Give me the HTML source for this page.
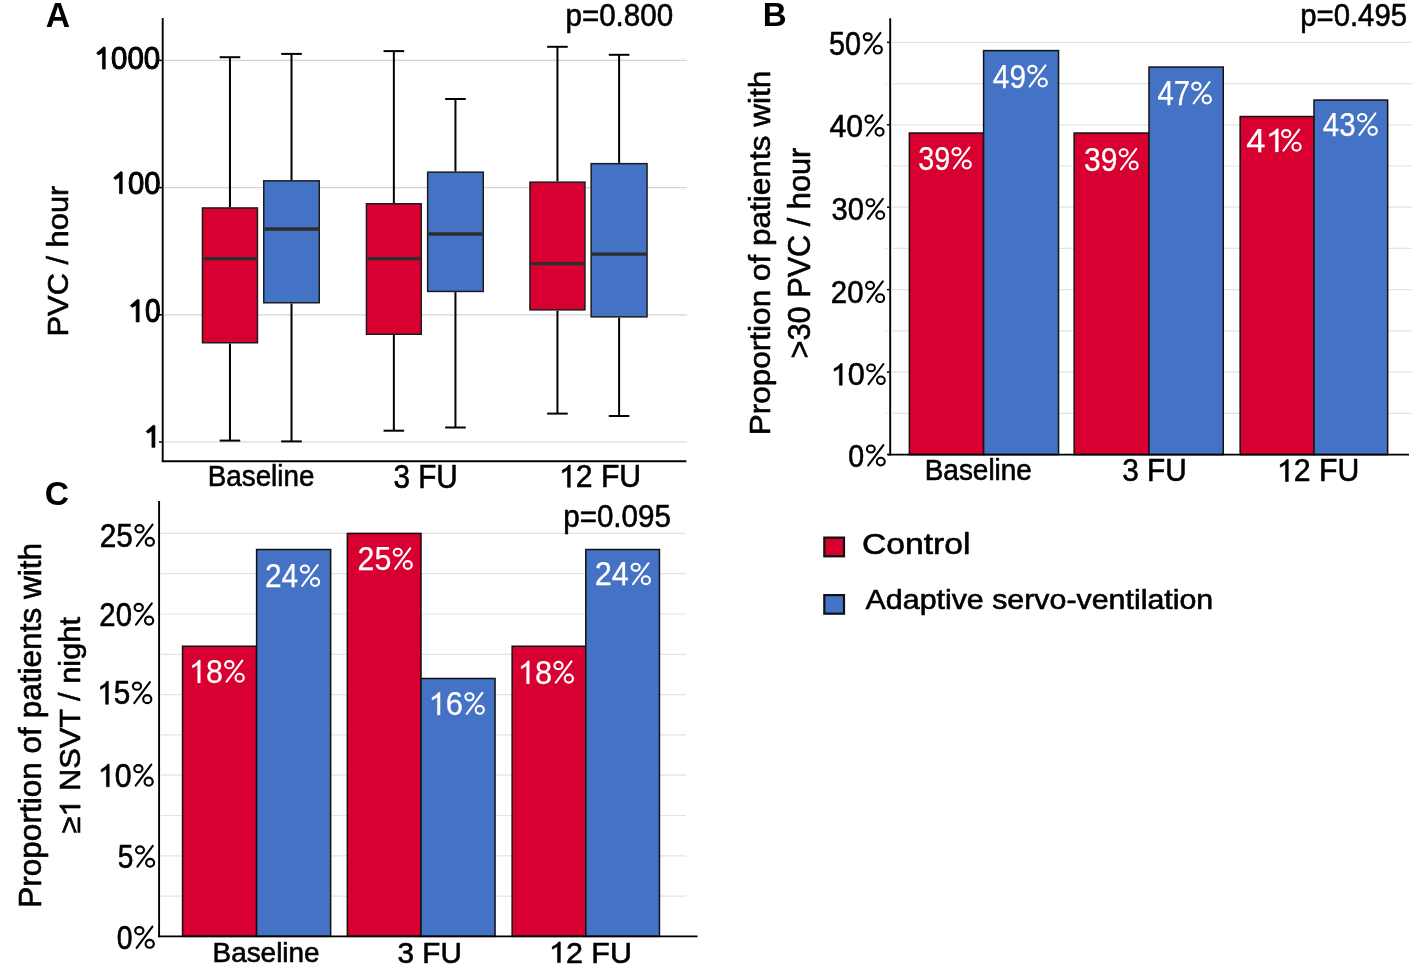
<!DOCTYPE html>
<html><head><meta charset="utf-8"><style>
html,body{margin:0;padding:0;background:#fff;}
svg{display:block;will-change:transform;font-family:"Liberation Sans",sans-serif;}
</style></head><body>
<svg width="1417" height="967" viewBox="0 0 1417 967">
<rect width="1417" height="967" fill="#fff"/>
<line x1="163.4" y1="60.4" x2="686.9" y2="60.4" stroke="#D4D4D4" stroke-width="1.2"/>
<line x1="159" y1="60.4" x2="162" y2="60.4" stroke="#000" stroke-width="1.5"/>
<line x1="163.4" y1="187.6" x2="686.9" y2="187.6" stroke="#D4D4D4" stroke-width="1.2"/>
<line x1="159" y1="187.6" x2="162" y2="187.6" stroke="#000" stroke-width="1.5"/>
<line x1="163.4" y1="314.8" x2="686.9" y2="314.8" stroke="#D4D4D4" stroke-width="1.2"/>
<line x1="159" y1="314.8" x2="162" y2="314.8" stroke="#000" stroke-width="1.5"/>
<line x1="163.4" y1="442.0" x2="686.9" y2="442.0" stroke="#D4D4D4" stroke-width="1.2"/>
<line x1="159" y1="442.0" x2="162" y2="442.0" stroke="#000" stroke-width="1.5"/>
<line x1="229.95" y1="57.2" x2="229.95" y2="207.2" stroke="#000" stroke-width="2"/>
<line x1="229.95" y1="343.5" x2="229.95" y2="440.6" stroke="#000" stroke-width="2"/>
<line x1="219.64999999999998" y1="57.2" x2="240.25" y2="57.2" stroke="#000" stroke-width="2"/>
<line x1="219.64999999999998" y1="440.6" x2="240.25" y2="440.6" stroke="#000" stroke-width="2"/>
<rect x="202.45" y="207.95" width="55.00" height="134.80" fill="#D70030" stroke="#1c1c1c" stroke-width="1.5"/>
<line x1="203.2" y1="258.6" x2="256.7" y2="258.6" stroke="#2e2e2e" stroke-width="3.3"/>
<line x1="291.5" y1="53.9" x2="291.5" y2="180.1" stroke="#000" stroke-width="2"/>
<line x1="291.5" y1="303.5" x2="291.5" y2="441.4" stroke="#000" stroke-width="2"/>
<line x1="281.2" y1="53.9" x2="301.8" y2="53.9" stroke="#000" stroke-width="2"/>
<line x1="281.2" y1="441.4" x2="301.8" y2="441.4" stroke="#000" stroke-width="2"/>
<rect x="263.75" y="180.85" width="55.50" height="121.90" fill="#4472C4" stroke="#1c1c1c" stroke-width="1.5"/>
<line x1="264.5" y1="229.0" x2="318.5" y2="229.0" stroke="#2e2e2e" stroke-width="3.3"/>
<line x1="393.85" y1="51.1" x2="393.85" y2="203.0" stroke="#000" stroke-width="2"/>
<line x1="393.85" y1="335.0" x2="393.85" y2="430.7" stroke="#000" stroke-width="2"/>
<line x1="383.55" y1="51.1" x2="404.15000000000003" y2="51.1" stroke="#000" stroke-width="2"/>
<line x1="383.55" y1="430.7" x2="404.15000000000003" y2="430.7" stroke="#000" stroke-width="2"/>
<rect x="366.45" y="203.75" width="54.80" height="130.50" fill="#D70030" stroke="#1c1c1c" stroke-width="1.5"/>
<line x1="367.2" y1="258.6" x2="420.5" y2="258.6" stroke="#2e2e2e" stroke-width="3.3"/>
<line x1="455.45" y1="99.0" x2="455.45" y2="171.4" stroke="#000" stroke-width="2"/>
<line x1="455.45" y1="292.2" x2="455.45" y2="427.5" stroke="#000" stroke-width="2"/>
<line x1="445.15" y1="99.0" x2="465.75" y2="99.0" stroke="#000" stroke-width="2"/>
<line x1="445.15" y1="427.5" x2="465.75" y2="427.5" stroke="#000" stroke-width="2"/>
<rect x="427.65" y="172.15" width="55.60" height="119.30" fill="#4472C4" stroke="#1c1c1c" stroke-width="1.5"/>
<line x1="428.4" y1="234.0" x2="482.5" y2="234.0" stroke="#2e2e2e" stroke-width="3.3"/>
<line x1="557.45" y1="46.8" x2="557.45" y2="181.4" stroke="#000" stroke-width="2"/>
<line x1="557.45" y1="310.6" x2="557.45" y2="413.6" stroke="#000" stroke-width="2"/>
<line x1="547.1500000000001" y1="46.8" x2="567.75" y2="46.8" stroke="#000" stroke-width="2"/>
<line x1="547.1500000000001" y1="413.6" x2="567.75" y2="413.6" stroke="#000" stroke-width="2"/>
<rect x="529.95" y="182.15" width="55.00" height="127.70" fill="#D70030" stroke="#1c1c1c" stroke-width="1.5"/>
<line x1="530.7" y1="263.7" x2="584.2" y2="263.7" stroke="#2e2e2e" stroke-width="3.3"/>
<line x1="619.0999999999999" y1="54.8" x2="619.0999999999999" y2="162.9" stroke="#000" stroke-width="2"/>
<line x1="619.0999999999999" y1="317.6" x2="619.0999999999999" y2="416.0" stroke="#000" stroke-width="2"/>
<line x1="608.8" y1="54.8" x2="629.3999999999999" y2="54.8" stroke="#000" stroke-width="2"/>
<line x1="608.8" y1="416.0" x2="629.3999999999999" y2="416.0" stroke="#000" stroke-width="2"/>
<rect x="591.15" y="163.65" width="55.90" height="153.20" fill="#4472C4" stroke="#1c1c1c" stroke-width="1.5"/>
<line x1="591.9" y1="254.2" x2="646.3" y2="254.2" stroke="#2e2e2e" stroke-width="3.3"/>
<line x1="162.7" y1="18" x2="162.7" y2="462.1" stroke="#000" stroke-width="1.9"/>
<line x1="161.8" y1="461.2" x2="686.4" y2="461.2" stroke="#000" stroke-width="1.9"/>
<line x1="892.5" y1="413.28499999999997" x2="1412" y2="413.28499999999997" stroke="#E3E3E3" stroke-width="1.2"/>
<line x1="884.5" y1="413.28499999999997" x2="888" y2="413.28499999999997" stroke="#EDEDED" stroke-width="1.2"/>
<line x1="892.5" y1="372.07" x2="1412" y2="372.07" stroke="#E3E3E3" stroke-width="1.2"/>
<line x1="892.5" y1="330.855" x2="1412" y2="330.855" stroke="#E3E3E3" stroke-width="1.2"/>
<line x1="884.5" y1="330.855" x2="888" y2="330.855" stroke="#EDEDED" stroke-width="1.2"/>
<line x1="892.5" y1="289.64" x2="1412" y2="289.64" stroke="#E3E3E3" stroke-width="1.2"/>
<line x1="892.5" y1="248.42499999999998" x2="1412" y2="248.42499999999998" stroke="#E3E3E3" stroke-width="1.2"/>
<line x1="884.5" y1="248.42499999999998" x2="888" y2="248.42499999999998" stroke="#EDEDED" stroke-width="1.2"/>
<line x1="892.5" y1="207.20999999999998" x2="1412" y2="207.20999999999998" stroke="#E3E3E3" stroke-width="1.2"/>
<line x1="892.5" y1="165.995" x2="1412" y2="165.995" stroke="#E3E3E3" stroke-width="1.2"/>
<line x1="884.5" y1="165.995" x2="888" y2="165.995" stroke="#EDEDED" stroke-width="1.2"/>
<line x1="892.5" y1="124.77999999999997" x2="1412" y2="124.77999999999997" stroke="#E3E3E3" stroke-width="1.2"/>
<line x1="892.5" y1="83.565" x2="1412" y2="83.565" stroke="#E3E3E3" stroke-width="1.2"/>
<line x1="884.5" y1="83.565" x2="888" y2="83.565" stroke="#EDEDED" stroke-width="1.2"/>
<line x1="892.5" y1="42.349999999999966" x2="1412" y2="42.349999999999966" stroke="#E3E3E3" stroke-width="1.2"/>
<line x1="887" y1="454.5" x2="889.5" y2="454.5" stroke="#000" stroke-width="1.5"/>
<line x1="887" y1="372.07" x2="889.5" y2="372.07" stroke="#000" stroke-width="1.5"/>
<line x1="887" y1="289.64" x2="889.5" y2="289.64" stroke="#000" stroke-width="1.5"/>
<line x1="887" y1="207.20999999999998" x2="889.5" y2="207.20999999999998" stroke="#000" stroke-width="1.5"/>
<line x1="887" y1="124.77999999999997" x2="889.5" y2="124.77999999999997" stroke="#000" stroke-width="1.5"/>
<line x1="887" y1="42.349999999999966" x2="889.5" y2="42.349999999999966" stroke="#000" stroke-width="1.5"/>
<rect x="909.35" y="133.02" width="74.25" height="321.58" fill="#D70030" stroke="#111" stroke-width="1.5"/>
<rect x="983.60" y="50.59" width="74.95" height="404.01" fill="#4472C4" stroke="#111" stroke-width="1.5"/>
<rect x="1074.15" y="133.02" width="74.85" height="321.58" fill="#D70030" stroke="#111" stroke-width="1.5"/>
<rect x="1149.00" y="67.08" width="74.25" height="387.52" fill="#4472C4" stroke="#111" stroke-width="1.5"/>
<rect x="1240.15" y="116.54" width="73.85" height="338.06" fill="#D70030" stroke="#111" stroke-width="1.5"/>
<rect x="1314.00" y="100.05" width="73.65" height="354.55" fill="#4472C4" stroke="#111" stroke-width="1.5"/>
<line x1="890.2" y1="18.2" x2="890.2" y2="455.5" stroke="#000" stroke-width="1.9"/>
<line x1="888" y1="454.6" x2="1409" y2="454.6" stroke="#000" stroke-width="1.9"/>
<line x1="161" y1="896.1" x2="686" y2="896.1" stroke="#E3E3E3" stroke-width="1.2"/>
<line x1="161" y1="855.8" x2="686" y2="855.8" stroke="#E3E3E3" stroke-width="1.2"/>
<line x1="161" y1="815.5" x2="686" y2="815.5" stroke="#E3E3E3" stroke-width="1.2"/>
<line x1="161" y1="775.1999999999999" x2="686" y2="775.1999999999999" stroke="#E3E3E3" stroke-width="1.2"/>
<line x1="161" y1="734.9" x2="686" y2="734.9" stroke="#E3E3E3" stroke-width="1.2"/>
<line x1="161" y1="694.5999999999999" x2="686" y2="694.5999999999999" stroke="#E3E3E3" stroke-width="1.2"/>
<line x1="161" y1="654.3" x2="686" y2="654.3" stroke="#E3E3E3" stroke-width="1.2"/>
<line x1="161" y1="614.0" x2="686" y2="614.0" stroke="#E3E3E3" stroke-width="1.2"/>
<line x1="161" y1="573.6999999999999" x2="686" y2="573.6999999999999" stroke="#E3E3E3" stroke-width="1.2"/>
<line x1="161" y1="533.4" x2="686" y2="533.4" stroke="#E3E3E3" stroke-width="1.2"/>
<rect x="182.55" y="646.24" width="74.05" height="290.16" fill="#D70030" stroke="#111" stroke-width="1.5"/>
<rect x="256.60" y="549.52" width="74.05" height="386.88" fill="#4472C4" stroke="#111" stroke-width="1.5"/>
<rect x="347.35" y="533.40" width="73.65" height="403.00" fill="#D70030" stroke="#111" stroke-width="1.5"/>
<rect x="421.00" y="678.48" width="74.05" height="257.92" fill="#4472C4" stroke="#111" stroke-width="1.5"/>
<rect x="512.15" y="646.24" width="73.65" height="290.16" fill="#D70030" stroke="#111" stroke-width="1.5"/>
<rect x="585.80" y="549.52" width="73.65" height="386.88" fill="#4472C4" stroke="#111" stroke-width="1.5"/>
<line x1="159.1" y1="501" x2="159.1" y2="937.3" stroke="#000" stroke-width="1.9"/>
<line x1="158" y1="936.4" x2="697.5" y2="936.4" stroke="#000" stroke-width="1.9"/>
<rect x="824.30" y="537.60" width="19.70" height="18.70" fill="#D70030" stroke="#111" stroke-width="2.2"/>
<rect x="824.30" y="595.10" width="19.70" height="18.60" fill="#4472C4" stroke="#111" stroke-width="2.2"/>
<g><g transform="translate(46.60,26.50)"><text x="-0.84" y="0" font-size="34.91" textLength="24.36" lengthAdjust="spacingAndGlyphs" font-weight="bold" fill="#000" xml:space="preserve">A</text></g></g>
<g><g transform="translate(765.10,26.30)"><text x="-2.24" y="0" font-size="33.60" textLength="23.91" lengthAdjust="spacingAndGlyphs" font-weight="bold" fill="#000" xml:space="preserve">B</text></g></g>
<g><g transform="translate(46.00,504.90)"><text x="-1.34" y="0" font-size="33.41" textLength="24.26" lengthAdjust="spacingAndGlyphs" font-weight="bold" fill="#000" xml:space="preserve">C</text></g></g>
<path d="M105.25,47.40 L105.25,69.05 L102.45,69.05 L102.45,52.70 L98.40,54.90 L96.60,53.10 L103.80,46.85 Z" fill="#000" stroke="#000" stroke-width="0.7" stroke-linejoin="round"/>
<g><g transform="translate(112.25,69.32)"><text x="-1.18" y="0" font-size="31.65" textLength="49.11" lengthAdjust="spacingAndGlyphs" font-weight="normal" fill="#000" stroke="#000" stroke-width="1.1" stroke-linejoin="round" xml:space="preserve">000</text></g></g>
<path d="M122.25,172.10 L122.25,193.65 L119.45,193.65 L119.45,177.40 L115.40,179.60 L113.60,177.80 L120.80,171.55 Z" fill="#000" stroke="#000" stroke-width="0.7" stroke-linejoin="round"/>
<g><g transform="translate(129.25,193.72)"><text x="-1.17" y="0" font-size="31.51" textLength="32.53" lengthAdjust="spacingAndGlyphs" font-weight="normal" fill="#000" stroke="#000" stroke-width="1.1" stroke-linejoin="round" xml:space="preserve">00</text></g></g>
<path d="M139.15,299.90 L139.15,321.95 L136.15,321.95 L136.15,305.20 L132.10,307.40 L130.30,305.60 L137.50,299.35 Z" fill="#000" stroke="#000" stroke-width="0.7" stroke-linejoin="round"/>
<g><g transform="translate(146.05,322.23)"><text x="-1.12" y="0" font-size="32.51" textLength="15.61" lengthAdjust="spacingAndGlyphs" font-weight="normal" fill="#000" stroke="#000" stroke-width="1.1" stroke-linejoin="round" xml:space="preserve">0</text></g></g>
<path d="M154.95,425.70 L154.95,447.35 L151.95,447.35 L151.95,431.00 L147.90,433.20 L146.10,431.40 L153.30,425.15 Z" fill="#000" stroke="#000" stroke-width="0.7" stroke-linejoin="round"/>
<g><g transform="translate(567.40,26.15)"><text x="-1.92" y="0" font-size="31.76" textLength="107.63" lengthAdjust="spacingAndGlyphs" font-weight="normal" fill="#000" stroke="#000" stroke-width="0.6" stroke-linejoin="round" xml:space="preserve">p=0.800</text></g></g>
<g><g transform="translate(67.65,333.90) rotate(-90)"><text x="-2.54" y="0" font-size="30.14" textLength="150.74" lengthAdjust="spacingAndGlyphs" font-weight="normal" fill="#000" stroke="#000" stroke-width="0.6" stroke-linejoin="round" xml:space="preserve">PVC / hour</text></g></g>
<g><g transform="translate(210.00,486.15)"><text x="-2.29" y="0" font-size="30.00" textLength="106.70" lengthAdjust="spacingAndGlyphs" font-weight="normal" fill="#000" stroke="#000" stroke-width="0.6" stroke-linejoin="round" xml:space="preserve">Baseline</text></g></g>
<g><g transform="translate(394.60,488.35)"><text x="-1.11" y="0" font-size="32.33" textLength="64.30" lengthAdjust="spacingAndGlyphs" font-weight="normal" fill="#000" stroke="#000" stroke-width="0.6" stroke-linejoin="round" xml:space="preserve">3 FU</text></g></g>
<g><g transform="translate(562.30,487.25)"><path d="M7.96,0.00 L7.96,-22.13 L6.30,-22.13 L4.86,-20.12 L2.75,-18.51 L0.00,-16.99 L0.00,-14.32 L2.44,-15.61 L5.22,-17.54 L5.22,0.00 Z" fill="#000" stroke="#000" stroke-width="0.6" stroke-linejoin="round"/><text x="13.49" y="0" font-size="32.19" textLength="65.37" lengthAdjust="spacingAndGlyphs" font-weight="normal" fill="#000" stroke="#000" stroke-width="0.6" stroke-linejoin="round" xml:space="preserve">2 FU</text></g></g>
<g><g transform="translate(1302.10,26.45)"><text x="-1.91" y="0" font-size="31.90" textLength="106.88" lengthAdjust="spacingAndGlyphs" font-weight="normal" fill="#000" stroke="#000" stroke-width="0.6" stroke-linejoin="round" xml:space="preserve">p=0.495</text></g></g>
<g><ellipse cx="867.72" cy="36.86" rx="4.00" ry="3.54" fill="none" stroke="#000" stroke-width="2.12"/><ellipse cx="877.84" cy="49.62" rx="4.00" ry="3.89" fill="none" stroke="#000" stroke-width="2.12"/><line x1="865.09" y1="53.53" x2="880.47" y2="32.84" stroke="#000" stroke-width="2.07" stroke-linecap="round"/><g transform="translate(830.20,54.65)"><text x="-1.15" y="0" font-size="32.33" textLength="32.04" lengthAdjust="spacingAndGlyphs" font-weight="normal" fill="#000" stroke="#000" stroke-width="0.6" stroke-linejoin="round" xml:space="preserve">50</text></g></g>
<g><ellipse cx="869.49" cy="119.14" rx="3.98" ry="3.53" fill="none" stroke="#000" stroke-width="2.11"/><ellipse cx="879.56" cy="131.85" rx="3.98" ry="3.87" fill="none" stroke="#000" stroke-width="2.11"/><line x1="866.87" y1="135.74" x2="882.18" y2="115.13" stroke="#000" stroke-width="2.06" stroke-linecap="round"/><g transform="translate(830.10,136.85)"><text x="-0.68" y="0" font-size="32.19" textLength="33.52" lengthAdjust="spacingAndGlyphs" font-weight="normal" fill="#000" stroke="#000" stroke-width="0.6" stroke-linejoin="round" xml:space="preserve">40</text></g></g>
<g><ellipse cx="870.42" cy="202.73" rx="3.90" ry="3.45" fill="none" stroke="#000" stroke-width="2.06"/><ellipse cx="880.27" cy="215.16" rx="3.90" ry="3.79" fill="none" stroke="#000" stroke-width="2.06"/><line x1="867.85" y1="218.97" x2="882.83" y2="198.81" stroke="#000" stroke-width="2.02" stroke-linecap="round"/><g transform="translate(832.70,220.05)"><text x="-1.09" y="0" font-size="31.47" textLength="32.39" lengthAdjust="spacingAndGlyphs" font-weight="normal" fill="#000" stroke="#000" stroke-width="0.6" stroke-linejoin="round" xml:space="preserve">30</text></g></g>
<g><ellipse cx="870.09" cy="285.44" rx="3.98" ry="3.53" fill="none" stroke="#000" stroke-width="2.11"/><ellipse cx="880.16" cy="298.15" rx="3.98" ry="3.87" fill="none" stroke="#000" stroke-width="2.11"/><line x1="867.47" y1="302.04" x2="882.78" y2="281.43" stroke="#000" stroke-width="2.06" stroke-linecap="round"/><g transform="translate(832.30,303.15)"><text x="-1.47" y="0" font-size="32.19" textLength="32.68" lengthAdjust="spacingAndGlyphs" font-weight="normal" fill="#000" stroke="#000" stroke-width="0.6" stroke-linejoin="round" xml:space="preserve">20</text></g></g>
<g><ellipse cx="871.08" cy="367.91" rx="3.88" ry="3.43" fill="none" stroke="#000" stroke-width="2.05"/><ellipse cx="880.89" cy="380.28" rx="3.88" ry="3.77" fill="none" stroke="#000" stroke-width="2.05"/><line x1="868.53" y1="384.07" x2="883.45" y2="364.00" stroke="#000" stroke-width="2.01" stroke-linecap="round"/><g transform="translate(834.10,385.15)"><path d="M8.07,0.00 L8.07,-21.54 L6.38,-21.54 L4.92,-19.58 L2.78,-18.01 L0.00,-16.54 L0.00,-13.94 L2.47,-15.19 L5.29,-17.07 L5.29,0.00 Z" fill="#000" stroke="#000" stroke-width="0.6" stroke-linejoin="round"/><text x="13.66" y="0" font-size="31.33" textLength="16.99" lengthAdjust="spacingAndGlyphs" font-weight="normal" fill="#000" stroke="#000" stroke-width="0.6" stroke-linejoin="round" xml:space="preserve">0</text></g></g>
<g><ellipse cx="870.82" cy="448.99" rx="3.95" ry="3.50" fill="none" stroke="#000" stroke-width="2.09"/><ellipse cx="880.81" cy="461.59" rx="3.95" ry="3.84" fill="none" stroke="#000" stroke-width="2.09"/><line x1="868.22" y1="465.45" x2="883.40" y2="445.02" stroke="#000" stroke-width="2.04" stroke-linecap="round"/><g transform="translate(849.50,466.55)"><text x="-1.14" y="0" font-size="31.90" textLength="15.89" lengthAdjust="spacingAndGlyphs" font-weight="normal" fill="#000" stroke="#000" stroke-width="0.6" stroke-linejoin="round" xml:space="preserve">0</text></g></g>
<g><g transform="translate(770.15,432.70) rotate(-90)"><text x="-2.60" y="0" font-size="30.14" textLength="364.56" lengthAdjust="spacingAndGlyphs" font-weight="normal" fill="#000" stroke="#000" stroke-width="0.6" stroke-linejoin="round" xml:space="preserve">Proportion of patients with</text></g></g>
<g><g transform="translate(809.55,356.90) rotate(-90)"><text x="-1.53" y="0" font-size="30.69" textLength="210.70" lengthAdjust="spacingAndGlyphs" font-weight="normal" fill="#000" stroke="#000" stroke-width="0.6" stroke-linejoin="round" xml:space="preserve">&gt;30 PVC / hour</text></g></g>
<g><g transform="translate(927.00,479.95)"><text x="-2.31" y="0" font-size="28.76" textLength="107.22" lengthAdjust="spacingAndGlyphs" font-weight="normal" fill="#000" stroke="#000" stroke-width="0.6" stroke-linejoin="round" xml:space="preserve">Baseline</text></g></g>
<g><g transform="translate(1123.30,481.45)"><text x="-1.12" y="0" font-size="31.90" textLength="64.51" lengthAdjust="spacingAndGlyphs" font-weight="normal" fill="#000" stroke="#000" stroke-width="0.6" stroke-linejoin="round" xml:space="preserve">3 FU</text></g></g>
<g><g transform="translate(1280.30,481.45)"><path d="M7.98,0.00 L7.98,-21.93 L6.32,-21.93 L4.87,-19.94 L2.75,-18.34 L0.00,-16.84 L0.00,-14.20 L2.45,-15.47 L5.23,-17.39 L5.23,0.00 Z" fill="#000" stroke="#000" stroke-width="0.6" stroke-linejoin="round"/><text x="13.52" y="0" font-size="31.90" textLength="65.54" lengthAdjust="spacingAndGlyphs" font-weight="normal" fill="#000" stroke="#000" stroke-width="0.6" stroke-linejoin="round" xml:space="preserve">2 FU</text></g></g>
<g><ellipse cx="956.55" cy="151.68" rx="4.02" ry="3.56" fill="none" stroke="#fff" stroke-width="2.13"/><ellipse cx="966.72" cy="164.50" rx="4.02" ry="3.90" fill="none" stroke="#fff" stroke-width="2.13"/><line x1="953.91" y1="168.43" x2="969.36" y2="147.64" stroke="#fff" stroke-width="2.08" stroke-linecap="round"/><g transform="translate(919.33,169.64)"><text x="-1.08" y="0" font-size="32.85" textLength="32.04" lengthAdjust="spacingAndGlyphs" font-weight="normal" fill="#fff" stroke="#fff" stroke-width="0.25" stroke-linejoin="round" xml:space="preserve">39</text></g></g>
<g><ellipse cx="1032.39" cy="69.47" rx="4.09" ry="3.62" fill="none" stroke="#fff" stroke-width="2.16"/><ellipse cx="1042.73" cy="82.51" rx="4.09" ry="3.97" fill="none" stroke="#fff" stroke-width="2.16"/><line x1="1029.70" y1="86.51" x2="1045.42" y2="65.36" stroke="#fff" stroke-width="2.11" stroke-linecap="round"/><g transform="translate(993.42,87.74)"><text x="-0.67" y="0" font-size="33.42" textLength="33.29" lengthAdjust="spacingAndGlyphs" font-weight="normal" fill="#fff" stroke="#fff" stroke-width="0.25" stroke-linejoin="round" xml:space="preserve">49</text></g></g>
<g><ellipse cx="1123.65" cy="152.82" rx="3.97" ry="3.51" fill="none" stroke="#fff" stroke-width="2.10"/><ellipse cx="1133.68" cy="165.47" rx="3.97" ry="3.85" fill="none" stroke="#fff" stroke-width="2.10"/><line x1="1121.04" y1="169.35" x2="1136.29" y2="148.83" stroke="#fff" stroke-width="2.05" stroke-linecap="round"/><g transform="translate(1085.22,170.54)"><text x="-1.13" y="0" font-size="32.42" textLength="33.44" lengthAdjust="spacingAndGlyphs" font-weight="normal" fill="#fff" stroke="#fff" stroke-width="0.25" stroke-linejoin="round" xml:space="preserve">39</text></g></g>
<g><ellipse cx="1196.36" cy="86.21" rx="4.12" ry="3.65" fill="none" stroke="#fff" stroke-width="2.18"/><ellipse cx="1206.79" cy="99.37" rx="4.12" ry="4.01" fill="none" stroke="#fff" stroke-width="2.18"/><line x1="1193.65" y1="103.40" x2="1209.50" y2="82.07" stroke="#fff" stroke-width="2.13" stroke-linecap="round"/><g transform="translate(1158.12,104.64)"><text x="-0.66" y="0" font-size="34.20" textLength="32.60" lengthAdjust="spacingAndGlyphs" font-weight="normal" fill="#fff" stroke="#fff" stroke-width="0.25" stroke-linejoin="round" xml:space="preserve">47</text></g></g>
<g><ellipse cx="1286.19" cy="133.67" rx="4.09" ry="3.62" fill="none" stroke="#fff" stroke-width="2.16"/><ellipse cx="1296.53" cy="146.71" rx="4.09" ry="3.97" fill="none" stroke="#fff" stroke-width="2.16"/><line x1="1283.50" y1="150.71" x2="1299.22" y2="129.56" stroke="#fff" stroke-width="2.11" stroke-linecap="round"/><g transform="translate(1247.12,151.94)"><text x="-0.78" y="0" font-size="33.91" textLength="19.20" lengthAdjust="spacingAndGlyphs" font-weight="normal" fill="#fff" stroke="#fff" stroke-width="0.25" stroke-linejoin="round" xml:space="preserve">4</text><path d="M31.30,0.00 L31.30,-23.31 L29.40,-23.31 L27.75,-21.19 L25.33,-19.50 L22.19,-17.90 L22.19,-15.09 L24.98,-16.45 L28.16,-18.48 L28.16,0.00 Z" fill="#fff" stroke="#fff" stroke-width="0.25" stroke-linejoin="round"/></g></g>
<g><ellipse cx="1362.19" cy="117.64" rx="4.14" ry="3.67" fill="none" stroke="#fff" stroke-width="2.19"/><ellipse cx="1372.66" cy="130.84" rx="4.14" ry="4.02" fill="none" stroke="#fff" stroke-width="2.19"/><line x1="1359.47" y1="134.89" x2="1375.39" y2="113.47" stroke="#fff" stroke-width="2.14" stroke-linecap="round"/><g transform="translate(1323.53,136.14)"><text x="-0.66" y="0" font-size="33.85" textLength="32.79" lengthAdjust="spacingAndGlyphs" font-weight="normal" fill="#fff" stroke="#fff" stroke-width="0.25" stroke-linejoin="round" xml:space="preserve">43</text></g></g>
<g><g transform="translate(565.10,527.05)"><text x="-1.92" y="0" font-size="32.19" textLength="107.71" lengthAdjust="spacingAndGlyphs" font-weight="normal" fill="#000" stroke="#000" stroke-width="0.6" stroke-linejoin="round" xml:space="preserve">p=0.095</text></g></g>
<g><ellipse cx="139.49" cy="528.77" rx="4.09" ry="3.62" fill="none" stroke="#000" stroke-width="2.16"/><ellipse cx="149.83" cy="541.81" rx="4.09" ry="3.97" fill="none" stroke="#000" stroke-width="2.16"/><line x1="136.80" y1="545.81" x2="152.52" y2="524.66" stroke="#000" stroke-width="2.11" stroke-linecap="round"/><g transform="translate(101.20,546.95)"><text x="-1.49" y="0" font-size="33.05" textLength="33.10" lengthAdjust="spacingAndGlyphs" font-weight="normal" fill="#000" stroke="#000" stroke-width="0.6" stroke-linejoin="round" xml:space="preserve">25</text></g></g>
<g><ellipse cx="138.72" cy="607.49" rx="4.11" ry="3.63" fill="none" stroke="#000" stroke-width="2.17"/><ellipse cx="149.11" cy="620.59" rx="4.11" ry="3.99" fill="none" stroke="#000" stroke-width="2.17"/><line x1="136.02" y1="624.60" x2="151.81" y2="603.36" stroke="#000" stroke-width="2.12" stroke-linecap="round"/><g transform="translate(100.80,625.75)"><text x="-1.46" y="0" font-size="33.19" textLength="32.59" lengthAdjust="spacingAndGlyphs" font-weight="normal" fill="#000" stroke="#000" stroke-width="0.6" stroke-linejoin="round" xml:space="preserve">20</text></g></g>
<g><ellipse cx="136.96" cy="686.15" rx="4.07" ry="3.60" fill="none" stroke="#000" stroke-width="2.15"/><ellipse cx="147.25" cy="699.13" rx="4.07" ry="3.95" fill="none" stroke="#000" stroke-width="2.15"/><line x1="134.28" y1="703.11" x2="149.93" y2="682.05" stroke="#000" stroke-width="2.11" stroke-linecap="round"/><g transform="translate(100.50,704.25)"><path d="M7.84,0.00 L7.84,-22.95 L6.21,-22.95 L4.78,-20.86 L2.70,-19.19 L0.00,-17.63 L0.00,-14.85 L2.41,-16.19 L5.14,-18.19 L5.14,0.00 Z" fill="#000" stroke="#000" stroke-width="0.6" stroke-linejoin="round"/><text x="13.28" y="0" font-size="33.38" textLength="16.52" lengthAdjust="spacingAndGlyphs" font-weight="normal" fill="#000" stroke="#000" stroke-width="0.6" stroke-linejoin="round" xml:space="preserve">5</text></g></g>
<g><ellipse cx="138.36" cy="768.65" rx="4.07" ry="3.60" fill="none" stroke="#000" stroke-width="2.15"/><ellipse cx="148.65" cy="781.63" rx="4.07" ry="3.95" fill="none" stroke="#000" stroke-width="2.15"/><line x1="135.68" y1="785.61" x2="151.33" y2="764.55" stroke="#000" stroke-width="2.11" stroke-linecap="round"/><g transform="translate(101.20,786.75)"><path d="M8.01,0.00 L8.01,-22.62 L6.35,-22.62 L4.89,-20.56 L2.76,-18.92 L0.00,-17.37 L0.00,-14.64 L2.46,-15.96 L5.25,-17.93 L5.25,0.00 Z" fill="#000" stroke="#000" stroke-width="0.6" stroke-linejoin="round"/><text x="13.58" y="0" font-size="32.90" textLength="16.88" lengthAdjust="spacingAndGlyphs" font-weight="normal" fill="#000" stroke="#000" stroke-width="0.6" stroke-linejoin="round" xml:space="preserve">0</text></g></g>
<g><ellipse cx="140.02" cy="849.96" rx="4.00" ry="3.54" fill="none" stroke="#000" stroke-width="2.12"/><ellipse cx="150.14" cy="862.72" rx="4.00" ry="3.89" fill="none" stroke="#000" stroke-width="2.12"/><line x1="137.39" y1="866.63" x2="152.77" y2="845.93" stroke="#000" stroke-width="2.07" stroke-linecap="round"/><g transform="translate(118.90,867.75)"><text x="-1.12" y="0" font-size="32.80" textLength="15.63" lengthAdjust="spacingAndGlyphs" font-weight="normal" fill="#000" stroke="#000" stroke-width="0.6" stroke-linejoin="round" xml:space="preserve">5</text></g></g>
<g><ellipse cx="139.32" cy="930.69" rx="4.11" ry="3.63" fill="none" stroke="#000" stroke-width="2.17"/><ellipse cx="149.71" cy="943.79" rx="4.11" ry="3.99" fill="none" stroke="#000" stroke-width="2.17"/><line x1="136.62" y1="947.80" x2="152.41" y2="926.56" stroke="#000" stroke-width="2.12" stroke-linecap="round"/><g transform="translate(117.80,948.95)"><text x="-1.14" y="0" font-size="33.19" textLength="15.79" lengthAdjust="spacingAndGlyphs" font-weight="normal" fill="#000" stroke="#000" stroke-width="0.6" stroke-linejoin="round" xml:space="preserve">0</text></g></g>
<g><g transform="translate(41.05,905.20) rotate(-90)"><text x="-2.60" y="0" font-size="30.55" textLength="364.86" lengthAdjust="spacingAndGlyphs" font-weight="normal" fill="#000" stroke="#000" stroke-width="0.6" stroke-linejoin="round" xml:space="preserve">Proportion of patients with</text></g></g>
<g><g transform="translate(80.15,832.60) rotate(-90)"><text x="-1.00" y="0" font-size="29.59" textLength="16.90" lengthAdjust="spacingAndGlyphs" font-weight="normal" fill="#000" stroke="#000" stroke-width="0.6" stroke-linejoin="round" xml:space="preserve">≥</text><path d="M27.38,0.00 L27.38,-20.34 L25.69,-20.34 L24.21,-18.49 L22.06,-17.01 L19.25,-15.62 L19.25,-13.17 L21.75,-14.35 L24.58,-16.12 L24.58,0.00 Z" fill="#000" stroke="#000" stroke-width="0.6" stroke-linejoin="round"/><text x="33.02" y="0" font-size="29.59" textLength="182.55" lengthAdjust="spacingAndGlyphs" font-weight="normal" fill="#000" stroke="#000" stroke-width="0.6" stroke-linejoin="round" xml:space="preserve"> NSVT / night</text></g></g>
<g><g transform="translate(214.80,961.55)"><text x="-2.30" y="0" font-size="27.66" textLength="107.12" lengthAdjust="spacingAndGlyphs" font-weight="normal" fill="#000" stroke="#000" stroke-width="0.6" stroke-linejoin="round" xml:space="preserve">Baseline</text></g></g>
<g><g transform="translate(398.70,962.55)"><text x="-1.11" y="0" font-size="30.04" textLength="64.19" lengthAdjust="spacingAndGlyphs" font-weight="normal" fill="#000" stroke="#000" stroke-width="0.6" stroke-linejoin="round" xml:space="preserve">3 FU</text></g></g>
<g><g transform="translate(552.30,962.55)"><path d="M8.04,0.00 L8.04,-20.65 L6.36,-20.65 L4.90,-18.77 L2.77,-17.27 L0.00,-15.86 L0.00,-13.37 L2.47,-14.57 L5.27,-16.37 L5.27,0.00 Z" fill="#000" stroke="#000" stroke-width="0.6" stroke-linejoin="round"/><text x="13.61" y="0" font-size="30.04" textLength="65.97" lengthAdjust="spacingAndGlyphs" font-weight="normal" fill="#000" stroke="#000" stroke-width="0.6" stroke-linejoin="round" xml:space="preserve">2 FU</text></g></g>
<g><ellipse cx="229.29" cy="664.67" rx="4.09" ry="3.62" fill="none" stroke="#fff" stroke-width="2.16"/><ellipse cx="239.63" cy="677.71" rx="4.09" ry="3.97" fill="none" stroke="#fff" stroke-width="2.16"/><line x1="226.60" y1="681.71" x2="242.32" y2="660.56" stroke="#fff" stroke-width="2.11" stroke-linecap="round"/><g transform="translate(192.32,682.94)"><path d="M8.04,0.00 L8.04,-22.98 L6.37,-22.98 L4.91,-20.89 L2.77,-19.22 L0.00,-17.65 L0.00,-14.87 L2.47,-16.21 L5.27,-18.22 L5.27,0.00 Z" fill="#fff" stroke="#fff" stroke-width="0.25" stroke-linejoin="round"/><text x="13.62" y="0" font-size="33.42" textLength="16.94" lengthAdjust="spacingAndGlyphs" font-weight="normal" fill="#fff" stroke="#fff" stroke-width="0.25" stroke-linejoin="round" xml:space="preserve">8</text></g></g>
<g><ellipse cx="304.89" cy="569.10" rx="4.04" ry="3.57" fill="none" stroke="#fff" stroke-width="2.13"/><ellipse cx="315.10" cy="581.98" rx="4.04" ry="3.92" fill="none" stroke="#fff" stroke-width="2.13"/><line x1="302.23" y1="585.92" x2="317.75" y2="565.04" stroke="#fff" stroke-width="2.09" stroke-linecap="round"/><g transform="translate(266.43,587.14)"><text x="-1.49" y="0" font-size="32.99" textLength="33.18" lengthAdjust="spacingAndGlyphs" font-weight="normal" fill="#fff" stroke="#fff" stroke-width="0.25" stroke-linejoin="round" xml:space="preserve">24</text></g></g>
<g><ellipse cx="397.69" cy="552.24" rx="3.98" ry="3.53" fill="none" stroke="#fff" stroke-width="2.11"/><ellipse cx="407.76" cy="564.95" rx="3.98" ry="3.87" fill="none" stroke="#fff" stroke-width="2.11"/><line x1="395.07" y1="568.84" x2="410.38" y2="548.23" stroke="#fff" stroke-width="2.06" stroke-linecap="round"/><g transform="translate(359.12,570.04)"><text x="-1.52" y="0" font-size="32.56" textLength="33.80" lengthAdjust="spacingAndGlyphs" font-weight="normal" fill="#fff" stroke="#fff" stroke-width="0.25" stroke-linejoin="round" xml:space="preserve">25</text></g></g>
<g><ellipse cx="469.46" cy="696.85" rx="4.07" ry="3.60" fill="none" stroke="#fff" stroke-width="2.15"/><ellipse cx="479.75" cy="709.84" rx="4.07" ry="3.95" fill="none" stroke="#fff" stroke-width="2.15"/><line x1="466.78" y1="713.81" x2="482.43" y2="692.75" stroke="#fff" stroke-width="2.11" stroke-linecap="round"/><g transform="translate(431.93,715.04)"><path d="M8.21,0.00 L8.21,-22.88 L6.50,-22.88 L5.01,-20.80 L2.83,-19.14 L-0.00,-17.57 L-0.00,-14.81 L2.52,-16.14 L5.38,-18.14 L5.38,0.00 Z" fill="#fff" stroke="#fff" stroke-width="0.25" stroke-linejoin="round"/><text x="13.90" y="0" font-size="33.28" textLength="17.29" lengthAdjust="spacingAndGlyphs" font-weight="normal" fill="#fff" stroke="#fff" stroke-width="0.25" stroke-linejoin="round" xml:space="preserve">6</text></g></g>
<g><ellipse cx="558.49" cy="665.57" rx="4.09" ry="3.62" fill="none" stroke="#fff" stroke-width="2.16"/><ellipse cx="568.83" cy="678.61" rx="4.09" ry="3.97" fill="none" stroke="#fff" stroke-width="2.16"/><line x1="555.80" y1="682.61" x2="571.52" y2="661.46" stroke="#fff" stroke-width="2.11" stroke-linecap="round"/><g transform="translate(521.23,683.84)"><path d="M8.13,0.00 L8.13,-22.98 L6.43,-22.98 L4.96,-20.89 L2.80,-19.22 L0.00,-17.65 L0.00,-14.87 L2.49,-16.21 L5.32,-18.22 L5.32,0.00 Z" fill="#fff" stroke="#fff" stroke-width="0.25" stroke-linejoin="round"/><text x="13.76" y="0" font-size="33.42" textLength="17.12" lengthAdjust="spacingAndGlyphs" font-weight="normal" fill="#fff" stroke="#fff" stroke-width="0.25" stroke-linejoin="round" xml:space="preserve">8</text></g></g>
<g><ellipse cx="635.69" cy="567.30" rx="4.04" ry="3.57" fill="none" stroke="#fff" stroke-width="2.13"/><ellipse cx="645.90" cy="580.18" rx="4.04" ry="3.92" fill="none" stroke="#fff" stroke-width="2.13"/><line x1="633.03" y1="584.12" x2="648.55" y2="563.24" stroke="#fff" stroke-width="2.09" stroke-linecap="round"/><g transform="translate(596.33,585.34)"><text x="-1.54" y="0" font-size="32.99" textLength="34.15" lengthAdjust="spacingAndGlyphs" font-weight="normal" fill="#fff" stroke="#fff" stroke-width="0.25" stroke-linejoin="round" xml:space="preserve">24</text></g></g>
<g><g transform="translate(863.70,554.25)"><text x="-1.68" y="0" font-size="30.41" textLength="108.51" lengthAdjust="spacingAndGlyphs" font-weight="normal" fill="#000" stroke="#000" stroke-width="0.6" stroke-linejoin="round" xml:space="preserve">Control</text></g></g>
<g><g transform="translate(865.70,609.15)"><text x="-0.08" y="0" font-size="28.07" textLength="347.60" lengthAdjust="spacingAndGlyphs" font-weight="normal" fill="#000" stroke="#000" stroke-width="0.6" stroke-linejoin="round" xml:space="preserve">Adaptive servo-ventilation</text></g></g>
</svg>
</body></html>
